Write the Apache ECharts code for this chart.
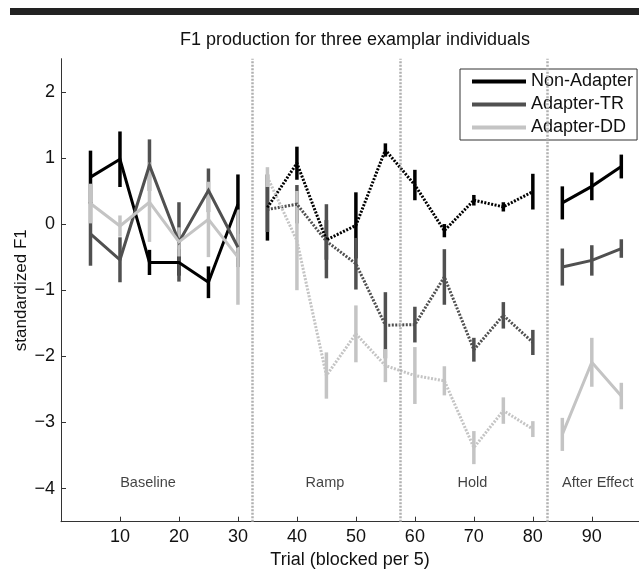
<!DOCTYPE html>
<html>
<head>
<meta charset="utf-8">
<script src="https://cdn.jsdelivr.net/npm/echarts@6/dist/echarts.min.js"></script>
<style>
html,body{margin:0;padding:0;background:#fff;}
#chart{width:639px;height:578px;}
</style>
</head>
<body>
<div id="chart"></div>
<script>
// ---- data ----
var trials = [5,10,15,20,25,30,35,40,45,50,55,60,65,70,75,80,85,90,95];
var nonAdapterMean = [0.71,0.98,-0.58,-0.58,-0.88,0.30,0.25,0.92,-0.24,-0.02,1.12,0.59,-0.10,0.36,0.26,0.49,0.32,0.57,0.87];
var nonAdapterErr  = [0.40,0.42,0.19,0.20,0.24,0.45,0.50,0.25,0.30,0.50,0.10,0.23,0.10,0.08,0.07,0.27,0.25,0.21,0.18];
var adapterTRMean  = [-0.15,-0.54,0.89,-0.27,0.51,-0.35,0.22,0.30,-0.26,-0.60,-1.53,-1.52,-0.80,-1.90,-1.38,-1.79,-0.65,-0.55,-0.37];
var adapterTRErr   = [0.48,0.34,0.39,0.60,0.33,0.30,0.34,0.29,0.56,0.39,0.50,0.27,0.42,0.18,0.20,0.19,0.28,0.23,0.14];
var adapterDDMean  = [0.31,-0.03,0.33,-0.27,0.07,-0.50,0.71,-0.25,-2.29,-1.66,-2.14,-2.29,-2.37,-3.38,-2.82,-3.10,-3.18,-2.09,-2.60];
var adapterDDErr   = [0.30,0.16,0.60,0.22,0.57,0.72,0.15,0.75,0.35,0.43,0.25,0.43,0.22,0.25,0.20,0.12,0.25,0.37,0.20];
var groupNames = ['Non-Adapter','Adapter-TR','Adapter-DD'];
var phaseNames = ['Baseline','Ramp','Hold','After Effect'];
var phaseLabelX = [14.75,44.75,69.75,91];
var phaseLabelY = -3.91;
var phaseBoundaries = [32.5,57.5,82.5];
var yTicks = [-4,-3,-2,-1,0,1,2];
// segments: [startIndex, endIndexInclusive, dotted]
var segments = [[0,5,false],[6,15,true],[16,18,false]];

var colors = ['#000000','#505050','#c4c4c4'];
var means = [nonAdapterMean, adapterTRMean, adapterDDMean];
var errs = [nonAdapterErr, adapterTRErr, adapterDDErr];
var FONT = 'Liberation Sans, Arial, sans-serif';

var series = [];
for (var g = 0; g < 3; g++) {
  var errData = trials.map(function (t, i) { return [t, means[g][i] - errs[g][i], means[g][i] + errs[g][i]]; });
  (function (col) {
    series.push({
      type: 'custom',
      name: groupNames[g] + ' err',
      data: errData,
      encode: { x: 0, y: [1, 2] },
      silent: true,
      renderItem: function (params, api) {
        var p1 = api.coord([api.value(0), api.value(1)]);
        var p2 = api.coord([api.value(0), api.value(2)]);
        return {
          type: 'line',
          shape: { x1: p1[0], y1: p1[1], x2: p2[0], y2: p2[1] },
          style: { stroke: col, lineWidth: 3.5, lineCap: 'butt' }
        };
      }
    });
  })(colors[g]);
  segments.forEach(function (seg) {
    var d = [];
    for (var i = seg[0]; i <= seg[1]; i++) d.push([trials[i], means[g][i]]);
    series.push({
      type: 'line',
      name: groupNames[g],
      data: d,
      symbol: 'none',
      silent: true,
      animation: false,
      itemStyle: { color: colors[g] },
      lineStyle: { color: colors[g], width: 3, type: seg[2] ? [2, 1.5] : 'solid', cap: 'butt', join: 'miter' }
    });
  });
}
// phase boundaries
series.push({
  type: 'line',
  name: 'boundaries',
  data: [],
  silent: true,
  markLine: {
    silent: true,
    symbol: ['none', 'none'],
    label: { show: false },
    lineStyle: { color: '#b0b0b0', width: 2.5, type: [2, 1.5] },
    data: phaseBoundaries.map(function (b) { return { xAxis: b }; })
  }
});
// phase labels
series.push({
  type: 'scatter',
  name: 'phases',
  silent: true,
  symbolSize: 0,
  data: phaseNames.map(function (n, i) { return { name: n, value: [phaseLabelX[i], phaseLabelY] }; }),
  label: {
    show: true, position: 'inside', formatter: '{b}',
    color: '#111', fontSize: 14.5, fontFamily: FONT
  }
});

var chart = echarts.init(document.getElementById('chart'), null, { renderer: 'canvas' });
chart.setOption({
  animation: false,
  backgroundColor: '#ffffff',
  textStyle: { fontFamily: FONT },
  graphic: [
    { type: 'rect', left: 10, top: 8, shape: { width: 629, height: 7 }, style: { fill: '#222' } },
    { type: 'text', x: 355, y: 40, style: { text: 'F1 production for three examplar individuals', fontSize: 18, fill: '#111', fontFamily: FONT, align: 'center', verticalAlign: 'middle' } }
  ],
  grid: { left: 61, top: 58.7, right: 0, bottom: 56.3, containLabel: false },
  legend: {
    data: groupNames,
    orient: 'vertical',
    left: 460, top: 69,
    icon: 'rect', itemWidth: 54, itemHeight: 4, itemGap: 2,
    padding: [2, 4, 2, 12],
    borderColor: '#333', borderWidth: 1, backgroundColor: '#fff',
    textStyle: { fontSize: 18, color: '#111', lineHeight: 21, fontFamily: FONT },
    selectedMode: false
  },
  xAxis: {
    type: 'value', min: 0, max: 98, interval: 10,
    axisLine: { onZero: false, lineStyle: { color: '#333', width: 1 } },
    axisTick: { inside: true, length: 5, lineStyle: { color: '#333' } },
    axisLabel: { fontSize: 18, color: '#111', margin: 6, showMinLabel: false, showMaxLabel: false },
    splitLine: { show: false },
    name: 'Trial (blocked per 5)', nameLocation: 'middle', nameGap: 27,
    nameTextStyle: { fontSize: 18, color: '#111' }
  },
  yAxis: {
    type: 'value', min: -4.5, max: 2.5,
    axisLine: { show: true, onZero: false, lineStyle: { color: '#333', width: 1 } },
    axisTick: { show: true, inside: true, length: 5, customValues: yTicks, lineStyle: { color: '#333' } },
    axisLabel: { fontSize: 18, color: '#111', margin: 6, customValues: yTicks,
      formatter: function (v) { return v < 0 ? '\u2212' + Math.abs(v) : String(v); } },
    splitLine: { show: false },
    name: 'standardized F1', nameLocation: 'middle', nameGap: 31, nameMoveOverlap: false,
    nameTextStyle: { fontSize: 17, color: '#111' }
  },
  series: series
});
</script>
</body>
</html>
